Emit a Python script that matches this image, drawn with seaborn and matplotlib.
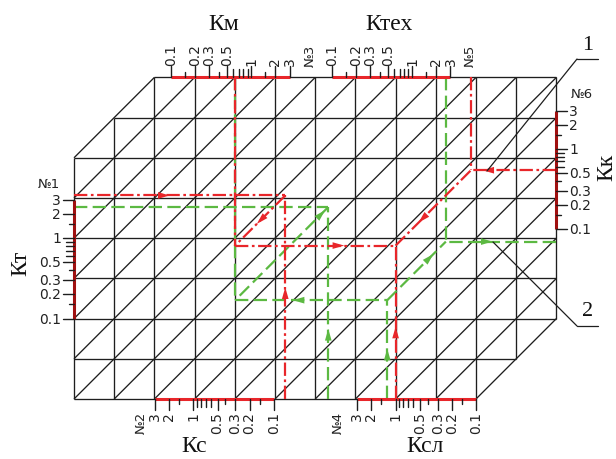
import numpy as np
import pandas as pd
import matplotlib
matplotlib.use("Agg")
import matplotlib.pyplot as plt
import seaborn as sns

# ----------------------------------------------
# DATA
# ----------------------------------------------
TICK_VALUES = [0.1, 0.15, 0.2, 0.3, 0.4, 0.5, 0.6, 0.7, 0.8, 0.9, 1, 1.5, 2, 3]
TICK_LABELS = ["0.1", "", "0.2", "0.3", "", "0.5", "", "", "", "", "1", "", "2", "3"]
MID_TICKS = [0.6, 0.7, 0.8, 0.9]
SCALE_RANGE = [0.1, 3]

# two worked examples: "1" = red dash-dot, "2" = green dashed
EXAMPLES = ["1", "2"]
KT   = [3.4, 2.44]     # scale No1
KC   = [0.072, 0.021]  # scale No2
KM   = [0.63, 0.63]    # scale No3
KSL  = [1.0, 1.27]     # scale No4
KTEX = [5.4, 2.63]     # scale No5

# ----------------------------------------------
# LAYOUT
# ----------------------------------------------
W, H = 616, 460
CELL = 40.2            # px per grid cell
ORIGIN = (74, 400)     # px of bottom-left grid corner
NX, NY = 12, 8
CUT = 2                # cells cut off top-left / bottom-right
DECADE = 2             # cells per decade

# name: (side, cell position of K = 1, direction)
SCALES = {
    "Km":   ("top",    4.41, 1),
    "Ktex": ("top",    8.41, 1),
    "Kt":   ("left",   4.00, 1),
    "Kk":   ("right",  6.22, 1),
    "Kc":   ("bottom", 2.97, -1),
    "Ksl":  ("bottom", 8.00, -1),
}

RED = "#e8262a"
DARKRED = "#a01010"
GREEN = "#5cb942"
INK = "#1e1e1e"

# arrows: (segment index, fraction along segment, +1 forward / -1 backward)
ARROWS = {
    "1": [(0, 0.43, 1), (1, 0.525, 1), (2, 0.5, 1), (4, 0.65, 1),
          (5, 0.44, 1), (6, 0.35, -1), (8, 0.81, 1)],
    "2": [(2, 0.07, -1), (1, 0.34, 1), (4, 0.41, -1), (5, 0.46, 1),
          (6, 0.73, 1), (8, 0.62, -1)],
}


def px(x, y):
    """pixel position in the picture -> grid cell coordinates"""
    return (x - ORIGIN[0]) / CELL, (ORIGIN[1] - y) / CELL


def spos(name, k):
    side, one, sgn = SCALES[name]
    return one + sgn * DECADE * np.log10(k)


def path_segments(i):
    v1 = spos("Kt", KT[i])
    u1 = spos("Kc", KC[i])
    um = spos("Km", KM[i])
    v2 = v1 - (u1 - um)
    us = spos("Ksl", KSL[i])
    ut = spos("Ktex", KTEX[i])
    v4 = v2 + (ut - us)
    return [((0, v1), (u1, v1)), ((u1, 0), (u1, v1)), ((u1, v1), (um, v2)),
            ((um, NY), (um, v2)), ((um, v2), (us, v2)), ((us, 0), (us, v2)),
            ((us, v2), (ut, v4)), ((ut, NY), (ut, v4)), ((NX, v4), (ut, v4))]


sns.set_theme(style="white")
plt.rcParams["font.family"] = ["DejaVu Sans"]
SERIF = ["Liberation Serif", "DejaVu Serif"]

fig = plt.figure(figsize=(W / 100, H / 100), dpi=100)
ax = fig.add_axes([0, 0, 1, 1])
x0, y0 = px(0, H)
x1, y1 = px(W, 0)
ax.set_xlim(x0, x1)
ax.set_ylim(y0, y1)
ax.axis("off")

# ---- grid ----
gkw = dict(color=INK, lw=0.95, zorder=1, solid_capstyle="butt")
for v in range(NY + 1):
    ax.plot([max(0, v - (NY - CUT)), min(NX, v + (NX - CUT))], [v, v], **gkw)
for u in range(NX + 1):
    ax.plot([u, u], [max(0, u - (NX - CUT)), min(NY, u + (NY - CUT))], **gkw)
for c in range(-(NX - CUT), NY - CUT + 1):
    ua, ub = max(0, -c), min(NX, NY - c)
    ax.plot([ua, ub], [ua + c, ub + c], **gkw)

# ---- worked examples (seaborn) ----
rows = []
for i, name in enumerate(EXAMPLES):
    for j, (a, b) in enumerate(path_segments(i)):
        rows.append(dict(ex=name, seg=f"{name}-{j}", u=a[0], v=a[1]))
        rows.append(dict(ex=name, seg=f"{name}-{j}", u=b[0], v=b[1]))
df = pd.DataFrame(rows)

sns.lineplot(data=df, x="u", y="v", hue="ex", style="ex", units="seg",
             estimator=None, sort=False, hue_order=["2", "1"],
             palette={"1": RED, "2": GREEN},
             dashes={"1": (6, 1.6, 1.2, 1.6), "2": (6, 2.4)},
             linewidth=1.6, legend=False, ax=ax, zorder=3)
ax.set_xlabel("")
ax.set_ylabel("")
ax.set_xlim(x0, x1)
ax.set_ylim(y0, y1)

for i, name in enumerate(EXAMPLES):
    segs = path_segments(i)
    col = RED if name == "1" else GREEN
    for k, frac, sgn in ARROWS[name]:
        a, b = np.array(segs[k][0]), np.array(segs[k][1])
        p = a + frac * (b - a)
        d = (b - a) / np.linalg.norm(b - a) * sgn
        ax.annotate("", xy=p + 0.12 * d, xytext=p - 0.12 * d,
                    arrowprops=dict(arrowstyle="-|>,head_length=0.7,head_width=0.2",
                                    color=col, lw=0, shrinkA=0, shrinkB=0),
                    zorder=4)

# ---- scales ----
TL = {"major": 11 / CELL, "mid": 8 / CELL, "minor": 5 / CELL}
OFF = 12 / CELL
FS = 10


def draw_scale(name, red):
    side = SCALES[name][0]
    a, b = spos(name, SCALE_RANGE[0]), spos(name, SCALE_RANGE[1])
    if side in ("top", "bottom"):
        e = NY if side == "top" else 0
        s = 1 if side == "top" else -1
        ax.plot([a, b], [e, e], color=red, lw=2.2, zorder=5, solid_capstyle="butt")
    else:
        e = 0 if side == "left" else NX
        s = -1 if side == "left" else 1
        ax.plot([e, e], [a, b], color=red, lw=2.2, zorder=5, solid_capstyle="butt")
    for val, lab in zip(TICK_VALUES, TICK_LABELS):
        kind = "major" if lab else ("mid" if val in MID_TICKS else "minor")
        p = spos(name, val)
        L = TL[kind]
        if side in ("top", "bottom"):
            ax.plot([p, p], [e, e + s * L], color=INK, lw=1.0, zorder=6)
            if lab:
                ax.text(p, e + s * OFF, lab, rotation=90, ha="center",
                        va="bottom" if s > 0 else "top", fontsize=FS, color="#222")
        else:
            ax.plot([e, e + s * L], [p, p], color=INK, lw=1.0, zorder=6)
            if lab:
                ax.text(e + s * 13 / CELL, p, lab, ha="right" if s < 0 else "left",
                        va="center", fontsize=FS, color="#222")


draw_scale("Km", RED)
draw_scale("Ktex", RED)
draw_scale("Kc", RED)
draw_scale("Ksl", RED)
draw_scale("Kt", DARKRED)
draw_scale("Kk", DARKRED)

# number labels of the scales
for txt, (x, y), rot, va in [("№3", (310, 67), 90, "bottom"), ("№5", (470, 67), 90, "bottom"),
                             ("№2", (141, 412), 90, "top"), ("№4", (338, 412), 90, "top"),
                             ("№1", (49, 184), 0, "center"), ("№6", (582, 94), 0, "center")]:
    ax.text(*px(x, y), txt, rotation=rot, ha="center", va=va, fontsize=9.5, color="#222")

# axis titles
for txt, (x, y), rot in [("Км", (224, 24), 0), ("Ктех", (389, 24), 0),
                         ("Кт", (21, 263), 90), ("Кк", (607, 167), 90),
                         ("Кс", (194, 447), 0), ("Ксл", (425, 447), 0)]:
    ax.text(*px(x, y), txt, rotation=rot, ha="center", va="center",
            fontsize=17, family=SERIF, color="#111")

# callouts 1 and 2
for txt, (tx, ty), (ux, uy), (ex, ey) in [("1", (588, 46), (577, 60), (487, 172)),
                                          ("2", (588, 311), (577, 327), (493, 243))]:
    ax.plot(*zip(px(ux, uy), px(ux + 21, uy)), color=INK, lw=0.9, zorder=7)
    ax.plot(*zip(px(ux, uy), px(ex, ey)), color=INK, lw=0.9, zorder=7)
    ax.text(*px(tx, ty), txt, ha="center", va="center", fontsize=16,
            family=SERIF, color="#111")

fig.savefig("out.png", dpi=100)
